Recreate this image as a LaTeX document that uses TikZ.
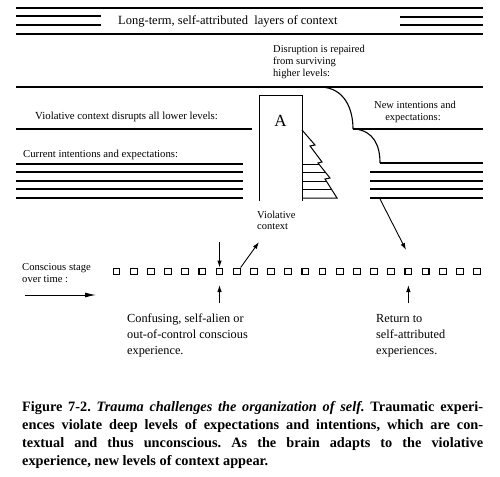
\documentclass[tikz,border=0pt]{standalone}
\usepackage{fontspec}
\setmainfont{Liberation Serif}
\usetikzlibrary{arrows.meta,calc}
\begin{document}
\frenchspacing
\begin{tikzpicture}[x=1pt,y=-1pt,
  ln/.style={line width=1.5pt},
  lbl/.style={inner sep=0pt,anchor=base west,font=\fontsize{10.5}{12}\selectfont},
  blbl/.style={lbl,font=\fontsize{12.3}{14}\selectfont},
  sq/.style={draw,line width=1.1pt,minimum size=6.8pt,inner sep=0pt},
  arr/.style={line width=0.9pt,-{Latex[length=7pt,width=4.5pt]}},
  capt/.style={inner sep=0pt,anchor=base west,font=\fontsize{14.3}{18}\bfseries\selectfont}]
\useasboundingbox (0,0) rectangle (500,476);
% top layers
\draw[ln] (16,8) -- (483,8);
\draw[ln] (16,16) -- (101,16);
\draw[ln] (16,25) -- (101,25);
\draw[ln] (400,17) -- (483,17);
\draw[ln] (400,25) -- (483,25);
\draw[ln] (16,34) -- (483,34);
\node[lbl,font=\fontsize{12.5}{14}\selectfont] (lt) at (118,25) {Long-term, self-attributed\ \ layers of context};
\node[lbl] (dis) at (273,52.5) {Disruption is repaired};
\node[lbl] (dis2) at (273,64.5) {from surviving};
\node[lbl] (dis3) at (273,76.5) {higher levels:};
\draw[ln] (16,87) -- (483,87);
% left lower levels
\node[lbl,font=\fontsize{10.8}{12}\selectfont] (vio) at (35,119) {Violative context disrupts all lower levels:};
\draw[ln] (16,129) -- (252,129);
\node[lbl,font=\fontsize{10.7}{12}\selectfont] (cur) at (23,157) {Current intentions and expectations:};
\foreach \y in {164,172,181,189,198} \draw[ln] (16,\y) -- (243,\y);
% violative box
\draw[line width=1pt] (259,201) -- (259,96) -- (302,96) -- (302,201);
\node[lbl,anchor=base,font=\fontsize{17}{18}\selectfont] (A) at (280.5,127) {A};
\draw[line width=1pt] (302,130) -- (315,145) -- (310,146) -- (322,162) -- (318,163) -- (330,178) -- (325,179) -- (337,198) -- (302,198);
\draw[line width=1pt] (302,164) -- (318.8,164);
\draw[line width=1pt] (302,172) -- (325.2,172);
\draw[line width=1pt] (302,181) -- (326.3,181);
\draw[line width=1pt] (302,189) -- (331.3,189);
\node[lbl] (vc1) at (257,218) {Violative};
\node[lbl] (vc2) at (257,229.5) {context};
% repair curves
\draw[line width=1.1pt] (321,87) .. controls (344,88) and (353,108) .. (353,129);
\draw[ln] (353,129) -- (483,129);
\draw[line width=1.1pt] (355,129) .. controls (374,131) and (380,146) .. (380,163);
\draw[ln] (380,163) -- (483,163);
\node[lbl,anchor=base] (ni1) at (415,109) {New intentions and};
\node[lbl,anchor=base] (ni2) at (413,120.5) {expectations:};
\foreach \y in {172,181,189,198} \draw[ln] (370,\y) -- (483,\y);
\coordinate (rl) at (380,199);
% conscious stage
\node[lbl,font=\fontsize{10.6}{12}\selectfont] (cs1) at (22,270) {Conscious stage};
\node[lbl,font=\fontsize{10.6}{12}\selectfont] (cs2) at (22,282) {over time :};
\coordinate (ta) at (25,295);
\coordinate (tb) at (96,295);
\draw[line width=1pt,-{Latex[length=11pt,width=5pt]}] (ta) -- (tb);
\foreach \i in {0,...,21} \node[sq] (s\i) at ({116.5+17.17*\i},271.5) {};
\coordinate (d1) at ($(s6)+(0,-29.5)$);
\coordinate (u1) at ($(s6)+(0,31.5)$);
\coordinate (u1t) at ($(s6)+(0,13.5)$);
\coordinate (vt) at (259,242);
\coordinate (r1) at ($(s17)+(0,31.5)$);
\coordinate (r1t) at ($(s17)+(0,13.5)$);
\coordinate (rt) at (406,250);
\draw[arr] (d1) -- (s6.north);
\draw[arr] (s7.north east) -- (vt);
\draw[arr] (u1) -- (u1t);
\draw[arr] (r1) -- (r1t);
\draw[arr] (rl) -- (rt);
\node[blbl] (cf1) at (127,322) {Confusing, self-alien or};
\node[blbl] (cf2) at (127,338) {out-of-control conscious};
\node[blbl] (cf3) at (127,354) {experience.};
\node[blbl] (rt1) at (376,322) {Return to};
\node[blbl] (rt2) at (376,338) {self-attributed};
\node[blbl] (rt3) at (376,354) {experiences.};
% caption
\node[capt] (c1) at (22,411) {\makebox[461pt][s]{Figure 7-2. \textit{Trauma challenges the organization of self.} Traumatic experi-}};
\node[capt] (c2) at (22,429) {\makebox[461pt][s]{ences violate deep levels of expectations and intentions, which are con-}};
\node[capt] (c3) at (22,447) {\makebox[461pt][s]{textual and thus unconscious. As the brain adapts to the violative}};
\node[capt] (c4) at (22,465) {experience, new levels of context appear.};
\end{tikzpicture}
\end{document}
